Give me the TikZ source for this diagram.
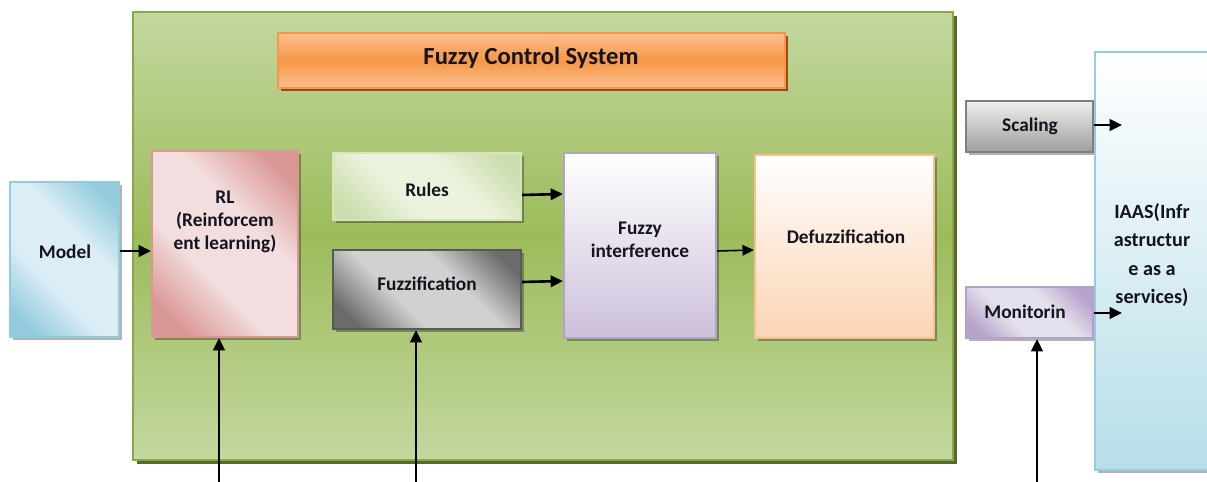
\documentclass[tikz,border=0pt]{standalone}
\usepackage{fontspec}
\setmainfont{Carlito}
\usetikzlibrary{arrows.meta,fit,shadows}
\definecolor{grnL}{HTML}{C4D79F}
\definecolor{grnD}{HTML}{9CBC5B}
\definecolor{grnB}{HTML}{86A94A}
\definecolor{grnS}{HTML}{566B2C}
\definecolor{orL}{HTML}{FAC090}
\definecolor{orD}{HTML}{F79646}
\definecolor{orS}{HTML}{9A4C12}
\definecolor{bluB}{HTML}{93CDDD}
\definecolor{bluL}{HTML}{B7DEE8}
\definecolor{pinkB}{HTML}{D99694}
\definecolor{rulB}{HTML}{D7E4BD}
\definecolor{gryB}{HTML}{595959}
\definecolor{gryM}{HTML}{7F7F7F}
\definecolor{lavB}{HTML}{B3A2C7}
\definecolor{lavL}{HTML}{CCC0DA}
\definecolor{peaB}{HTML}{FABF8F}
\definecolor{peaL}{HTML}{FBD4B4}
\definecolor{txt}{HTML}{14141E}
\newcommand\mkband[3]{\pgfdeclarehorizontalshading{#1}{100bp}{rgb(0bp)=(#2); rgb(22bp)=(#2); rgb(40bp)=(#3); rgb(60bp)=(#3); rgb(78bp)=(#2); rgb(100bp)=(#2)}}
\mkband{rlsh}{0.85,0.59,0.58}{0.95,0.87,0.87}
\mkband{modsh}{0.58,0.80,0.87}{0.86,0.93,0.96}
\mkband{fuzsh}{0.42,0.42,0.42}{0.82,0.82,0.82}
\mkband{rulsh}{0.80,0.87,0.68}{0.92,0.95,0.87}
\mkband{monsh}{0.72,0.64,0.80}{0.90,0.88,0.93}
\tikzset{
  box/.style={inner sep=0pt, draw, line width=1.2pt,
    drop shadow={shadow xshift=1.6pt, shadow yshift=-1.6pt, opacity=0.3, fill=black}},
  lbl/.style={font=\fontsize{11}{13}\selectfont\bfseries, text=txt, align=center},
  arr/.style={line width=1.5pt, -{Triangle[length=7pt,width=6.5pt]}},
  thinarr/.style={line width=0.9pt, -{Triangle[length=6.5pt,width=6pt]}},
}
\begin{document}
\begin{tikzpicture}[x=0.02cm,y=-0.02cm]
\useasboundingbox[fill=white] (0,0) rectangle (1207,482);
% main green panel
\node[fit={(133,12) (953,460)}, inner sep=0pt, draw=grnB, line width=1.5pt,
  top color=grnL, bottom color=grnL, middle color=grnD,
  drop shadow={shadow xshift=2.3pt, shadow yshift=-2.3pt, opacity=1, fill=grnS}] (panel) {};
% title
\node[box, fit={(278,33) (785,88)}, draw=orD, top color=orL, bottom color=orL, middle color=orD,
  drop shadow={shadow xshift=1.8pt, shadow yshift=-1.8pt, opacity=1, fill=orS}] (title) {};
\node[lbl, font=\fontsize{14}{16}\selectfont\bfseries] (titletext) at (531,58) {Fuzzy Control System};
% boxes
\node[box, fit={(10,182) (119,337)}, draw=bluB, shading=modsh, shading angle=45] (model) {};
\node[lbl] (modeltext) at (65,252) {Model};
\node[box, fit={(152,151) (298,337)}, draw=pinkB, shading=rlsh, shading angle=45] (rl) {};
\node[lbl] (rltext) at (225,222) {RL\\(Reinforcem\\ent learning)};
\node[box, fit={(333,153) (521,220)}, draw=rulB, shading=rulsh, shading angle=45] (rules) {};
\node[lbl] (rulestext) at (427,190) {Rules};
\node[box, fit={(333,250) (521,329)}, draw=gryB, shading=fuzsh, shading angle=45] (fuzz) {};
\node[lbl] (fuzztext) at (427,284) {Fuzzification};
\node[box, fit={(564,153) (716,338)}, draw=lavB, top color=white, bottom color=lavL] (fi) {};
\node[lbl] (fitext) at (640,240) {Fuzzy\\interference};
\node[box, fit={(755,155) (934,338)}, draw=peaB, top color=white, bottom color=peaL] (defuzz) {};
\node[lbl] (defuzztext) at (846,237) {Defuzzification};
\node[box, fit={(966,101) (1093,152)}, draw=gryM, line width=1.6pt, top color=black!6, bottom color=black!38] (scaling) {};
\node[lbl] (scalingtext) at (1030,126) {Scaling};
\node[box, fit={(966,287) (1093,338)}, draw=lavB, shading=monsh, shading angle=45] (mon) {};
\node[lbl] (montext) at (1025,312) {Monitorin};
\node[box, fit={(1095,52) (1218,470)}, draw=bluB, line width=1.6pt, top color=white, bottom color=bluL] (iaas) {};
\node[lbl, font=\fontsize{11.5}{16}\selectfont\bfseries] (iaastext) at (1152,255) {IAAS(Infr\\astructur\\e as a\\services)};
% free ends
\coordinate (sc) at (1122,125);
\coordinate (mc) at (1122,313);
\coordinate (b1) at (219,482);
\coordinate (b2) at (416,482);
\coordinate (b3) at (1037,482);
% connectors
\draw[arr] (model.east |- 0,251) -- (rl.west |- 0,251);
\draw[arr] (rules.east |- 0,195) -- (fi.west |- 0,194);
\draw[arr] (fuzz.east |- 0,282) -- (fi.west |- 0,281);
\draw[thinarr] (fi.east |- 0,251) -- (defuzz.west |- 0,250);
\draw[arr] (scaling.east |- sc) -- (sc);
\draw[arr] (mon.east |- mc) -- (mc);
\draw[arr] (b1) -- (b1 |- rl.south);
\draw[arr] (b2) -- (b2 |- fuzz.south);
\draw[arr] (b3) -- (b3 |- mon.south);
\end{tikzpicture}
\end{document}
